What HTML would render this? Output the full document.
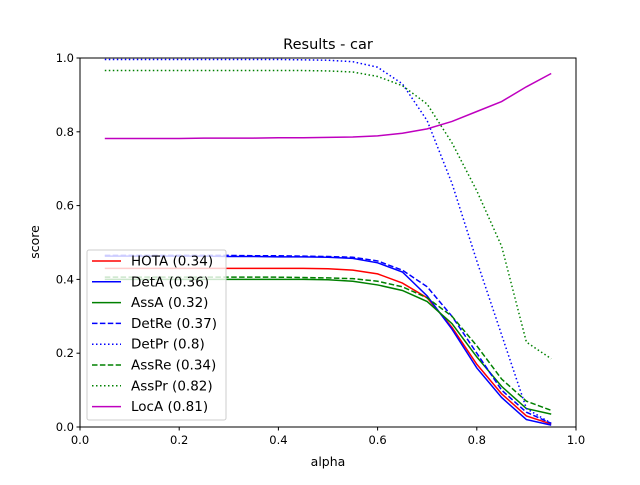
<!DOCTYPE html>
<html><head><meta charset="utf-8"><style>body{margin:0;background:#fff}svg{font-family:"DejaVu Sans","Liberation Sans",sans-serif}</style></head>
<body>
<svg id="chart" width="640" height="480" xmlns="http://www.w3.org/2000/svg"></svg>
<script>
const alphas=[0.05,0.1,0.15,0.2,0.25,0.3,0.35,0.4,0.45,0.5,0.55,0.6,0.65,0.7,0.75,0.8,0.85,0.9,0.95];
const hota=[0.43,0.43,0.43,0.43,0.43,0.43,0.43,0.43,0.43,0.429,0.425,0.415,0.39,0.35,0.27,0.17,0.09,0.03,0.008];
const detA=[0.463,0.463,0.463,0.463,0.463,0.462,0.462,0.461,0.461,0.46,0.457,0.445,0.42,0.355,0.265,0.16,0.08,0.02,0.005];
const assA=[0.40,0.40,0.40,0.40,0.40,0.40,0.40,0.40,0.40,0.399,0.395,0.385,0.37,0.34,0.28,0.19,0.11,0.05,0.035];
const detRe=[0.465,0.465,0.465,0.465,0.465,0.465,0.464,0.464,0.463,0.462,0.46,0.45,0.425,0.38,0.3,0.2,0.1,0.04,0.01];
const detPr=[0.996,0.996,0.996,0.996,0.996,0.996,0.996,0.996,0.995,0.994,0.99,0.975,0.93,0.83,0.66,0.45,0.25,0.05,0.01];
const assRe=[0.406,0.406,0.406,0.406,0.406,0.406,0.406,0.406,0.405,0.404,0.402,0.395,0.38,0.35,0.3,0.22,0.13,0.07,0.045];
const assPr=[0.966,0.966,0.966,0.966,0.966,0.966,0.966,0.966,0.966,0.965,0.962,0.95,0.925,0.875,0.77,0.64,0.49,0.23,0.185];
const locA=[0.782,0.782,0.782,0.782,0.783,0.783,0.783,0.784,0.784,0.785,0.786,0.789,0.796,0.808,0.828,0.855,0.882,0.922,0.958];
const ticks=[0,0.2,0.4,0.6,0.8,1.0];
const tickLabels=["0.0","0.2","0.4","0.6","0.8","1.0"];
const series=[
 {name:"HOTA (0.34)",v:hota,c:"#ff0000",d:""},
 {name:"DetA (0.36)",v:detA,c:"#0000ff",d:""},
 {name:"AssA (0.32)",v:assA,c:"#008000",d:""},
 {name:"DetRe (0.37)",v:detRe,c:"#0000ff",d:"5.5,2.4"},
 {name:"DetPr (0.8)",v:detPr,c:"#0000ff",d:"1.5,2.5"},
 {name:"AssRe (0.34)",v:assRe,c:"#008000",d:"5.5,2.4"},
 {name:"AssPr (0.82)",v:assPr,c:"#008000",d:"1.5,2.5"},
 {name:"LocA (0.81)",v:locA,c:"#bf00bf",d:""}];
const L=80,R=576,T=58,B=427;
const X=a=>L+a*(R-L), Y=v=>B-v*(B-T);
const svg=document.getElementById('chart');const NS="http://www.w3.org/2000/svg";
function mk(t,a,p){const e=document.createElementNS(NS,t);for(const k in a)e.setAttribute(k,a[k]);(p||svg).appendChild(e);return e;}
function txt(s,a){const e=mk('text',a);e.textContent=s;return e;}
series.forEach((s,i)=>{const p=mk('polyline',{points:alphas.map((a,j)=>X(a)+','+Y(s.v[j])).join(' '),fill:'none',stroke:s.c,'stroke-width':1.5,'stroke-dasharray':s.d});

});
const fr=mk('rect',{x:L,y:T,width:R-L,height:B-T,fill:'none',stroke:'#000','stroke-width':1});

ticks.forEach((t,i)=>{mk('line',{x1:X(t),x2:X(t),y1:B,y2:B+3.5,stroke:'#000'});
const a=txt(tickLabels[i],{x:X(t),y:B+17,'font-size':11.5,'text-anchor':'middle'});
mk('line',{x1:L-3.5,x2:L,y1:Y(t),y2:Y(t),stroke:'#000'});
const b=txt(tickLabels[i],{x:L-6,y:Y(t)+4,'font-size':11.5,'text-anchor':'end'});});
let e=txt('Results - car',{x:328,y:49,'font-size':14.5,'text-anchor':'middle'});
e=txt('alpha',{x:328,y:466,'font-size':12.5,'text-anchor':'middle'});
e=txt('score',{x:39,y:242,'font-size':12.5,'text-anchor':'middle',transform:'rotate(-90 39 242)'});
const lg=mk('rect',{x:87,y:250,width:139,height:170,rx:2,fill:'#fff','fill-opacity':0.8,stroke:'#ccc'});

series.forEach((s,i)=>{const y=261+i*20.8;
mk('line',{x1:92,x2:121,y1:y,y2:y,stroke:s.c,'stroke-width':1.5,'stroke-dasharray':s.d});
const t=txt(s.name,{x:131,y:y+4.5,'font-size':13.5});});
</script>
</body></html>
